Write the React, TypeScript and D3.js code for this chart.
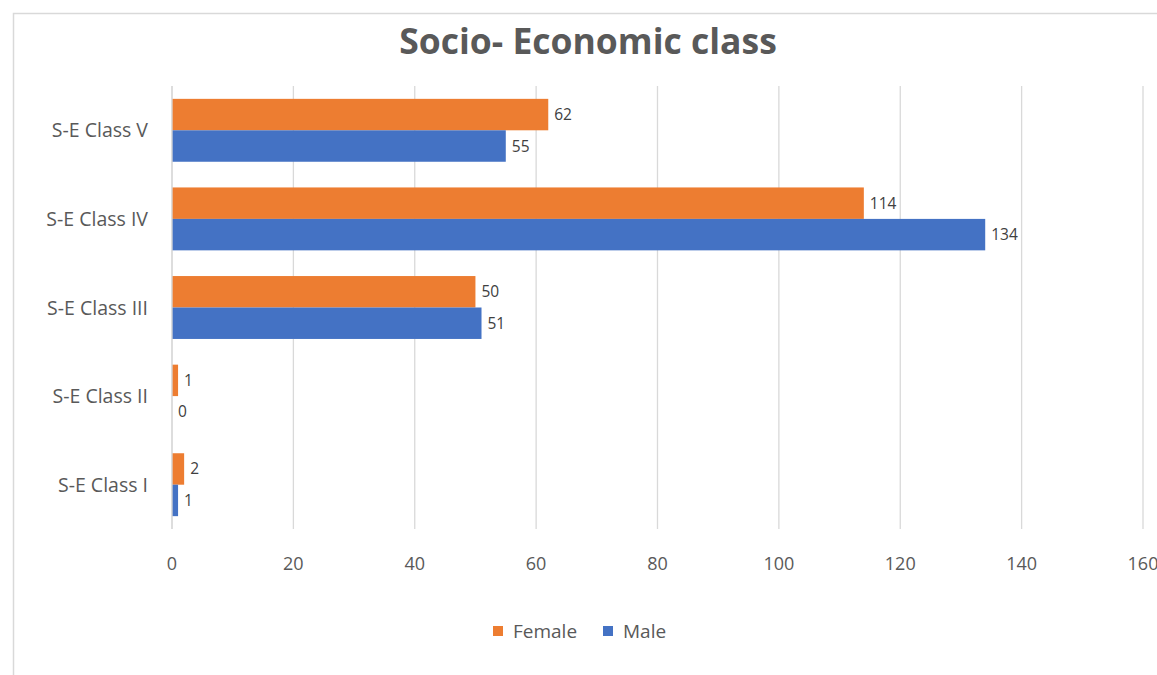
import React from "react";
import * as d3 from "d3";

const categories = ["S-E Class V", "S-E Class IV", "S-E Class III", "S-E Class II", "S-E Class I"];
const femaleValues = [62, 114, 50, 1, 2];
const maleValues = [55, 134, 51, 0, 1];
const seriesNames = ["Female", "Male"];
const seriesColors = ["#ED7D31", "#4472C4"];
const xTicks = [0, 20, 40, 60, 80, 100, 120, 140, 160];

const W = 1157;
const H = 675;
const FONT = "'Open Sans', 'Segoe UI', sans-serif";

export default function App() {
  const x = d3.scaleLinear().domain([0, 160]).range([172, 1143]);
  const y = d3.scaleBand().domain(categories).range([86, 529]).paddingInner(0.29).paddingOuter(0.145);
  const sub = d3.scaleBand().domain(seriesNames).range([0, y.bandwidth()]);
  const series = [femaleValues, maleValues];

  return (
    <svg width={W} height={H} style={{ position: "absolute", left: 0, top: 0, background: "#fff" }} fontFamily={FONT}>
      <rect x={13.5} y={13.5} width={W + 20} height={H + 20} fill="#fff" stroke="#d9d9d9" strokeWidth={1.5} />
      <text x={588} y={54} textAnchor="middle" fontSize={35.5} fontWeight="bold" fill="#595959">
        Socio- Economic class
      </text>
      {xTicks.map((t) => (
        <g key={t}>
          <line x1={x(t)} x2={x(t)} y1={86} y2={529} stroke="#d9d9d9" strokeWidth={1.3} />
          <text x={x(t)} y={570} textAnchor="middle" fontSize={18} fill="#595959">
            {t}
          </text>
        </g>
      ))}
      {categories.map((c) => (
        <text key={c} x={148} y={(y(c) ?? 0) + y.bandwidth() / 2 + 7} textAnchor="end" fontSize={19.5} fill="#595959">
          {c}
        </text>
      ))}
      {series.map((vals, si) =>
        categories.map((c, ci) => {
          const v = vals[ci];
          const by = (y(c) ?? 0) + (sub(seriesNames[si]) ?? 0);
          return (
            <g key={`${si}-${ci}`}>
              <rect x={x(0)} y={by} width={x(v) - x(0)} height={sub.bandwidth()} fill={seriesColors[si]} />
              <text x={x(v) + 6} y={by + sub.bandwidth() / 2 + 5.5} fontSize={15.5} fill="#404040">
                {v}
              </text>
            </g>
          );
        })
      )}
      <line x1={x(0)} x2={x(0)} y1={86} y2={529} stroke="#d9d9d9" strokeWidth={1.3} />
      {seriesNames.map((s, i) => {
        const lx = [493, 603][i];
        return (
          <g key={s}>
            <rect x={lx} y={626} width={10} height={10} fill={seriesColors[i]} />
            <text x={lx + 20} y={638} fontSize={19} fill="#595959">
              {s}
            </text>
          </g>
        );
      })}
    </svg>
  );
}
